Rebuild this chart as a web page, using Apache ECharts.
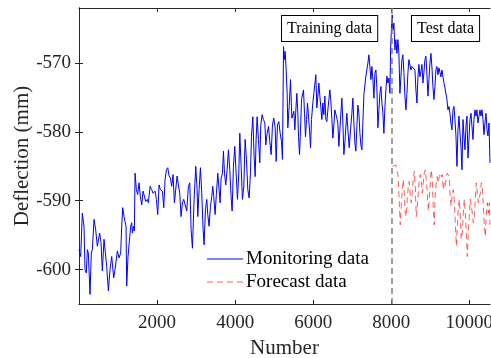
<!DOCTYPE html>
<html><head><meta charset="utf-8">
<script src="https://cdn.jsdelivr.net/npm/echarts@6/dist/echarts.min.js"></script>
<style>html,body{margin:0;padding:0;background:#fff}#c{width:491px;height:358px}</style>
</head><body><div id="c"></div>
<script>
const monitoringX = [0,43,85,128,154,188,214,239,282,316,342,385,427,470,530,564,598,641,684,709,752,795,838,889,923,983,1026,1068,1094,1120,1154,1179,1205,1222,1256,1299,1325,1350,1368,1393,1419,1436,1470,1504,1538,1573,1607,1641,1675,1709,1752,1778,1821,1863,1897,1949,1983,2017,2051,2085,2137,2171,2205,2239,2274,2308,2342,2376,2410,2444,2479,2513,2547,2581,2615,2650,2684,2718,
2761,2803,2838,2872,2906,2949,2992,3026,3043,3077,3111,3145,3180,3205,3239,3274,3299,3333,3368,3402,3427,3453,3487,3521,3556,3590,3615,3641,3675,3701,3727,3761,3795,3829,3863,3897,3923,3957,3991,4026,4060,4094,4120,4154,4188,4222,4256,4291,4325,4359,4393,4419,4453,4487,4513,4538,4564,4598,4632,4658,4692,4726,4761,4786,4820,4855,4889,4923,4957,4991,5026,5051,5085,5119,5154,5188,5213,5240,5260,
5282,5308,5333,5350,5385,5419,5453,5479,5504,5530,5556,5581,5607,5624,5650,5675,5701,5726,5752,5778,5803,5829,5855,5880,5906,5932,5957,5991,6017,6043,6068,6094,6120,6145,6171,6197,6222,6248,6273,6299,6325,6350,6376,6402,6427,6453,6479,6504,6530,6555,6581,6607,6632,6658,6684,6709,6735,6761,6786,6812,6838,6863,6889,6923,6957,6991,7017,7043,7068,7094,7120,7145,7171,7197,7222,7248,7273,7299,7325,7350,7376,7402,7427,7453,7479,7504,7530,7556,7581,7607,7632,7658,7684,7709,7735,7761,7786,7812,7837,7863,7889,7914,7940,7966,
7983,8008,8025,8043,8068,8094,8119,8145,8171,8196,8222,8248,8273,8299,8325,8350,8376,8402,8427,8453,8478,8504,8530,8555,8581,8607,8632,8658,8684,8709,8735,8761,8786,8812,8837,8863,8889,8914,8940,8966,8991,9017,9043,9068,9094,9119,9145,9171,9196,9222,9248,9273,9299,9325,9350,9376,9402,9427,9453,9479,9504,9530,9555,9581,9607,9632,9658,9684,9709,9735,9761,9786,9812,9838,9863,9889,9914,9940,9966,9991,10017,10043,10068,10094,10119,10145,10171,10196,10222,10248,10273,10299,10325,10350,10376,10401,10427,10453,10478,10504,10530];
const monitoringY = [-597.1,-598.1,-591.8,-593.7,-600.0,-600.5,-597.1,-597.6,-603.6,-597.6,-597.1,-592.7,-594.2,-596.6,-594.7,-596.1,-600.2,-595.6,-595.6,-599.5,-603.1,-600.0,-598.1,-601.2,-600.0,-597.3,-598.3,-597.6,-593.7,-591.0,-592.3,-593.0,-593.7,-602.4,-598.1,-598.1,-593.7,-593.2,-594.7,-593.7,-594.4,-586.0,-588.4,-589.1,-587.4,-589.4,-590.6,-588.6,-588.4,-590.1,-589.8,-590.3,-587.9,-588.4,-588.9,-588.6,-589.8,-592.0,-587.7,-588.4,-588.6,-591.0,-586.9,-585.5,-585.2,-586.4,-586.7,-587.9,-586.2,-590.3,-590.1,-586.4,-587.7,-588.9,-592.3,-590.3,-589.8,-589.6,
-591.5,-587.9,-587.4,-594.2,-596.9,-589.8,-585.0,-588.4,-592.3,-588.4,-585.2,-588.9,-594.2,-596.4,-591.3,-589.8,-592.0,-593.7,-590.8,-589.4,-587.9,-589.4,-592.0,-588.9,-586.0,-588.4,-590.3,-586.7,-586.0,-582.8,-586.0,-587.7,-585.5,-582.6,-585.5,-589.4,-591.5,-585.0,-582.1,-586.0,-589.8,-586.0,-580.2,-585.0,-589.8,-587.9,-581.1,-584.0,-588.4,-589.6,-586.0,-580.7,-577.8,-583.6,-586.5,-581.1,-577.8,-581.1,-584.5,-579.0,-577.5,-578.2,-578.7,-581.9,-580.2,-579.2,-581.4,-583.3,-579.0,-578.0,-579.4,-584.3,-579.0,-578.5,-580.2,-581.4,-584.0,-567.6,-569.5,
-568.3,-571.0,-574.4,-579.4,-576.3,-572.4,-578.0,-578.2,-577.0,-579.7,-576.8,-574.4,-577.3,-580.7,-583.3,-579.7,-575.3,-575.1,-573.9,-577.3,-580.7,-578.2,-575.8,-577.7,-579.7,-582.3,-578.2,-575.8,-574.4,-574.4,-571.7,-576.5,-574.8,-572.9,-574.8,-576.5,-578.2,-575.8,-577.5,-574.8,-578.2,-578.5,-576.8,-575.3,-573.9,-575.6,-578.2,-580.9,-579.0,-576.8,-576.8,-578.0,-578.7,-582.1,-579.7,-577.3,-575.1,-578.7,-583.3,-581.6,-579.2,-577.3,-579.7,-582.3,-579.7,-577.3,-575.1,-578.7,-581.6,-582.8,-579.2,-576.1,-577.3,-580.2,-581.9,-582.6,-578.7,-574.6,-574.8,-571.9,-571.9,-570.0,-568.8,-570.5,-572.4,-570.5,-572.4,-575.1,-571.5,-571.0,-573.6,-579.4,-576.8,-574.4,-573.4,-575.8,-577.3,-580.2,-576.5,-573.9,-571.9,-572.9,-572.2,-574.4,
-568.1,-564.5,-563.0,-565.2,-564.2,-568.1,-566.6,-568.6,-566.6,-568.6,-574.4,-572.0,-569.5,-568.8,-571.4,-574.8,-576.8,-574.4,-571.4,-569.5,-569.3,-571.0,-570.5,-570.7,-570.5,-571.0,-573.9,-575.8,-572.0,-570.2,-572.0,-571.2,-570.2,-572.9,-571.4,-569.5,-569.0,-571.7,-574.8,-572.4,-570.0,-568.6,-570.7,-573.4,-575.3,-573.4,-571.0,-570.5,-571.7,-570.7,-570.7,-572.0,-571.0,-571.0,-572.9,-573.6,-573.4,-575.3,-576.8,-576.3,-577.3,-578.7,-579.7,-576.8,-576.3,-578.2,-580.6,-585.0,-579.7,-577.7,-580.2,-582.1,-585.5,-578.2,-580.6,-582.6,-579.2,-577.7,-583.8,-581.1,-578.2,-577.3,-579.2,-581.1,-578.2,-576.8,-577.7,-576.8,-578.7,-577.7,-576.8,-577.7,-576.8,-578.2,-580.4,-578.7,-577.3,-579.7,-580.6,-578.7,-584.5];
const forecastX = [8034,8060,8085,8119,8154,8179,8196,8213,8231,8256,8282,8308,8333,8359,8384,8410,8436,8461,8487,8513,8538,8564,8590,8615,8641,8667,8692,8718,8743,8769,8795,8820,8846,8872,8897,8923,8949,8974,9000,9025,9051,9077,9102,9128,9154,9179,9205,9231,9256,9282,9307,9333,9359,9384,9410,9436,9461,9487,9513,9538,9564,9590,9615,9641,9667,9692,9718,9743,9769,9795,9820,9846,9872,9897,9923,9949,9974,10000,10026,10051,10077,10102,10128,10154,10179,10205,10231,10256,10282,10307,10333,10359,10384,10410,10436,10461,10487,10513,10530];
const forecastY = [-585.0,-584.8,-585.0,-584.8,-585.0,-586.5,-588.9,-591.3,-593.5,-590.8,-588.4,-586.9,-588.9,-591.8,-592.3,-589.8,-587.9,-587.2,-589.4,-590.3,-588.9,-586.9,-585.7,-587.9,-592.3,-590.8,-588.9,-586.9,-586.2,-586.9,-588.9,-587.4,-586.0,-585.5,-586.9,-588.9,-591.5,-589.8,-587.4,-585.5,-586.9,-591.3,-593.5,-588.9,-587.4,-586.5,-587.4,-586.5,-586.0,-586.5,-586.2,-588.4,-587.4,-587.9,-586.5,-586.0,-586.2,-586.5,-589.8,-590.8,-588.9,-588.4,-589.8,-593.2,-596.6,-593.7,-591.3,-589.8,-592.3,-595.6,-594.7,-591.8,-589.8,-591.8,-594.7,-598.1,-594.7,-592.3,-589.8,-589.8,-591.8,-593.2,-592.3,-589.8,-587.4,-588.9,-590.3,-590.1,-588.9,-587.4,-587.9,-590.8,-593.7,-595.2,-591.8,-590.3,-591.8,-590.3,-593.5];
const xTicks = [2000, 4000, 6000, 8000, 10000];
const yTicks = [-600, -590, -580, -570];
const splitIndex = 8020;
const labels = ['Training data', 'Test data'];
const seriesNames = ['Monitoring data', 'Forecast data'];

const monitoring = monitoringX.map((x, i) => [x, monitoringY[i]]);
const forecast = forecastX.map((x, i) => [x, forecastY[i]]);
const FONT = 'Liberation Serif';
const axisColor = '#262626';
const blue = '#0000ff';
const red = 'rgba(255,40,40,0.75)';

const chart = echarts.init(document.getElementById('c'), null, {renderer: 'canvas'});
const fmt = v => '{t|' + String(v) + '}';
const tickRich = {t: {fontFamily: FONT, fontSize: 19, color: axisColor}};
const baseX = {
  type: 'value', min: 0, max: 10530,
  axisLine: {show: true, lineStyle: {color: axisColor, width: 1}},
  splitLine: {show: false},
  axisTick: {show: true, inside: true, length: 4, customValues: xTicks, lineStyle: {color: axisColor}},
};
const baseY = {
  type: 'value', min: -605, max: -562,
  axisLine: {show: true, lineStyle: {color: axisColor, width: 1}},
  splitLine: {show: false},
  axisTick: {show: true, inside: true, length: 4, customValues: yTicks, lineStyle: {color: axisColor}},
};
const legendLeft = 207, legendTop = 259, legendGap = 23;
const legendGraphics = [];
seriesNames.forEach((name, i) => {
  const y = legendTop + i * legendGap;
  legendGraphics.push({type: 'line', z: 100, shape: {x1: legendLeft, y1: y, x2: legendLeft + 36, y2: y},
    style: {stroke: i === 0 ? blue : red, lineWidth: 1, lineDash: i === 0 ? null : [6, 4]}});
  legendGraphics.push({type: 'text', z: 100, x: legendLeft + 39, y: y,
    style: {text: name, font: '19px "' + FONT + '"', fill: '#000', verticalAlign: 'middle', textAlign: 'left'}});
});
chart.setOption({
  animation: false,
  backgroundColor: '#fff',
  textStyle: {fontFamily: FONT},
  grid: {left: 79, right: 1, top: 8, bottom: 54, outerBoundsMode: 'none', containLabel: false},
  xAxis: [
    Object.assign({}, baseX, {
      position: 'bottom',
      name: 'Number', nameLocation: 'middle', nameGap: 34, nameMoveOverlap: false,
      nameTextStyle: {fontFamily: FONT, fontSize: 21, color: axisColor},
      axisLabel: {customValues: xTicks, formatter: fmt, rich: tickRich, margin: 10, fontFamily: FONT, fontSize: 19, color: axisColor}
    }),
    Object.assign({}, baseX, {position: 'top', axisLabel: {show: false}})
  ],
  yAxis: [
    Object.assign({}, baseY, {
      position: 'left',
      name: 'Deflection (mm)', nameLocation: 'middle', nameGap: 46, nameMoveOverlap: false,
      nameTextStyle: {fontFamily: FONT, fontSize: 21, color: axisColor},
      axisLabel: {customValues: yTicks, formatter: fmt, rich: tickRich, margin: 8, fontFamily: FONT, fontSize: 19, color: axisColor}
    }),
    Object.assign({}, baseY, {position: 'right', axisLabel: {show: false}})
  ],
  series: [
    {
      name: seriesNames[0], type: 'line', data: monitoring, symbol: 'none', showSymbol: false,
      lineStyle: {color: blue, width: 1}, itemStyle: {color: blue},
      markLine: {
        silent: true, symbol: ['none', 'none'], label: {show: false},
        lineStyle: {color: '#808080', type: [6, 4], width: 1.5},
        data: [{xAxis: splitIndex}]
      }
    },
    {
      name: seriesNames[1], type: 'line', data: forecast, symbol: 'none', showSymbol: false,
      lineStyle: {color: red, width: 1, type: [6, 4]}, itemStyle: {color: red}
    }
  ],
  graphic: [
    {type: 'text', left: 281, top: 15, z: 100,
     style: {text: labels[0], font: '16px "' + FONT + '"', fill: '#000', backgroundColor: '#fff', borderColor: '#000', borderWidth: 1, padding: [5, 5, 4, 5]}},
    {type: 'text', left: 411, top: 15, z: 100,
     style: {text: labels[1], font: '16px "' + FONT + '"', fill: '#000', backgroundColor: '#fff', borderColor: '#000', borderWidth: 1, padding: [5, 5, 4, 5]}}
  ].concat(legendGraphics)
});
</script>
</body></html>
